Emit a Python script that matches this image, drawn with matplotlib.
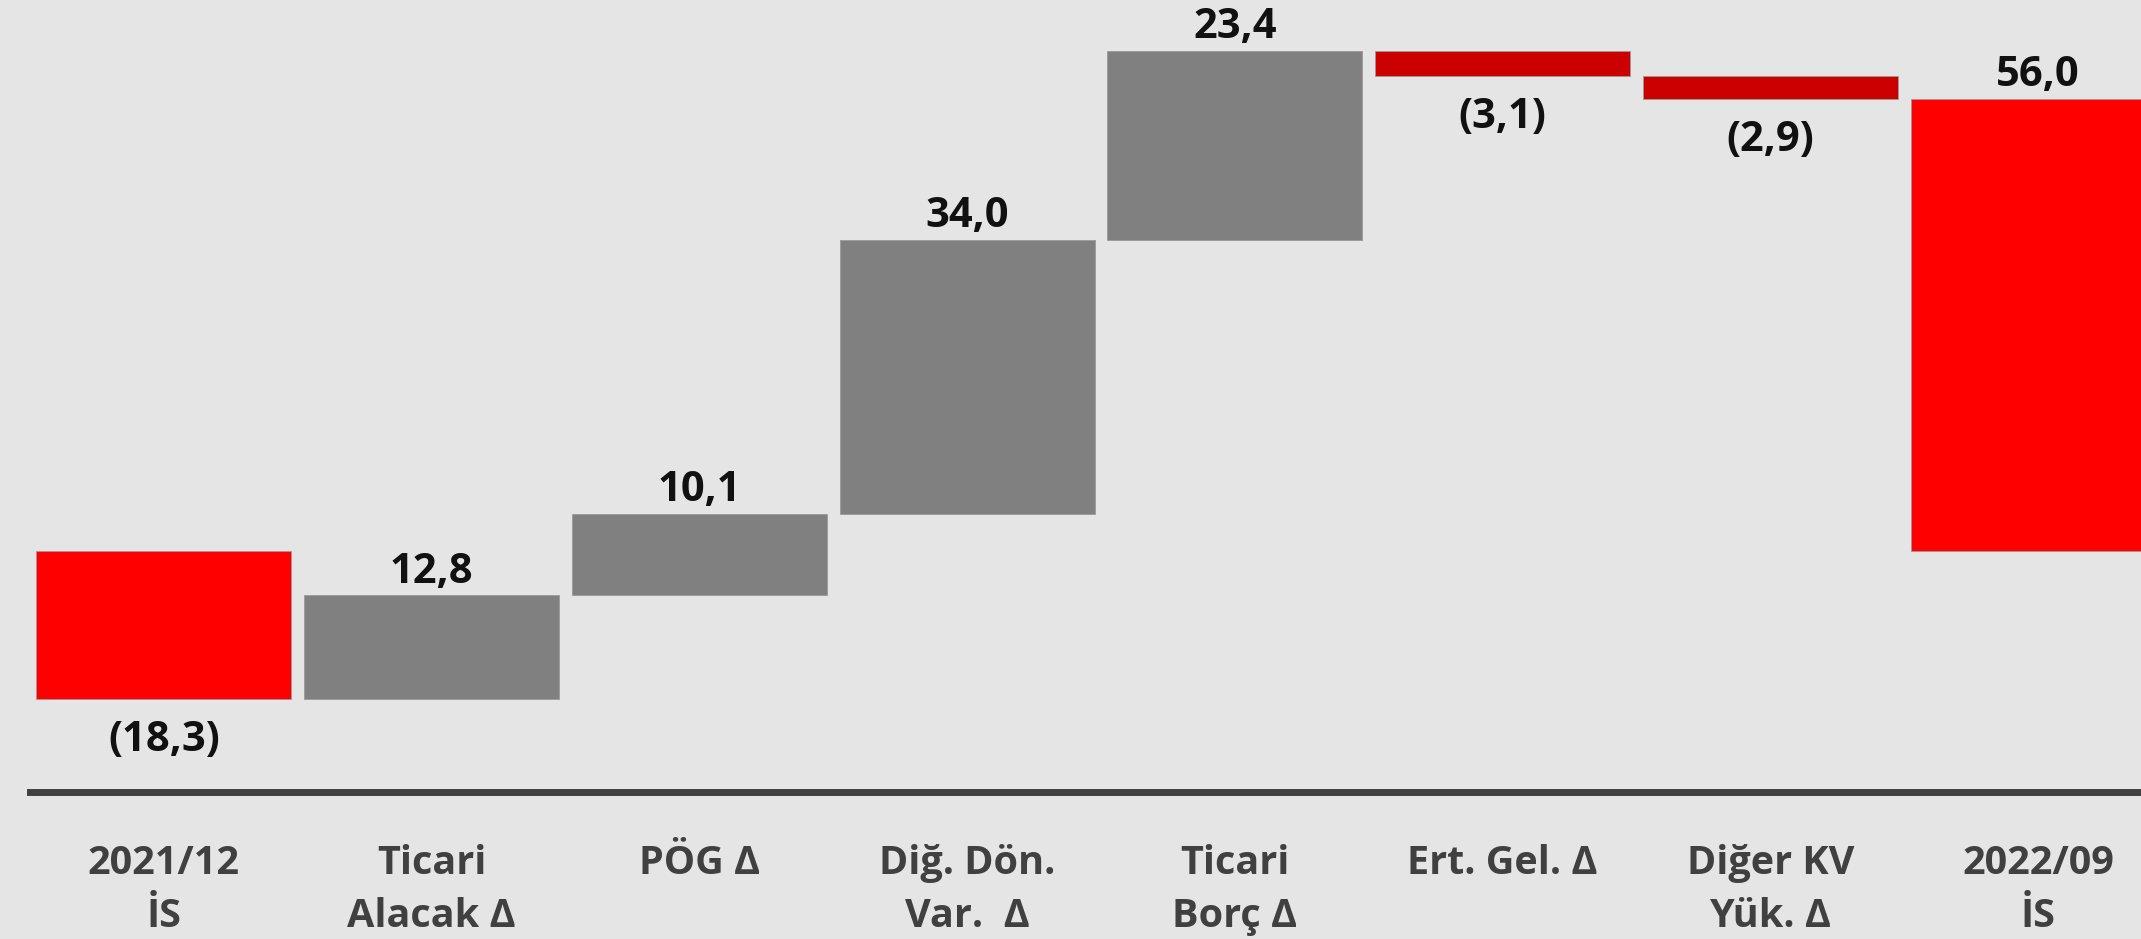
"""Waterfall: 2021/12 İS -> 2022/09 İS bridge (working capital components)."""

import matplotlib

matplotlib.use("Agg")
import matplotlib.pyplot as plt
import numpy as np

# Data.
CATEGORIES = [
    "2021/12\nİS",
    "Ticari\nAlacak Δ",
    "PÖG Δ",
    "Diğ. Dön.\nVar.  Δ",
    "Ticari\nBorç Δ",
    "Ert. Gel. Δ",
    "Diğer KV\nYük. Δ",
    "2022/09\nİS",
]
START = -18.3
DELTAS = [12.8, 10.1, 34.0, 23.4, -3.1, -2.9]
END = 56.0

RED = "#FF0000"
DARK_RED = "#CC0000"
GREY = "#808080"
BG = "#E5E5E5"
INK = "#404040"
FONT = ["Open Sans", "DejaVu Sans"]


def fmt(v):
    s = f"{abs(v):.1f}".replace(".", ",")
    return f"({s})" if v < 0 else s


def main():
    plt.rcParams["font.family"] = FONT
    plt.rcParams["font.weight"] = "bold"

    # bar geometry: (bottom, height, color, value)
    bottoms, heights, colors, values = [0.0], [START], [RED], [START]
    level = START
    for d in DELTAS:
        bottoms.append(level)
        heights.append(d)
        colors.append(GREY if d > 0 else DARK_RED)
        values.append(d)
        level += d
    bottoms.append(0.0)
    heights.append(END)
    colors.append(RED)
    values.append(END)

    fig = plt.figure(figsize=(21.41, 9.39), dpi=100, facecolor=BG)
    ax = fig.add_axes([0.014, 0.157, 0.986, 0.843], facecolor=BG)

    x = np.arange(len(CATEGORIES))
    ax.bar(x, heights, bottom=bottoms, width=0.953, color=colors,
           edgecolor="#9a9a9a", linewidth=0.6)

    for xi, b, h, v in zip(x, bottoms, heights, values):
        if v >= 0:
            ax.annotate(fmt(v), xy=(xi, b + h), xytext=(0, 2), textcoords="offset points",
                        ha="center", va="bottom", fontsize=30, fontweight="bold", color="#111111")
        else:
            ax.annotate(fmt(v), xy=(xi, b + h), xytext=(0, -15), textcoords="offset points",
                        ha="center", va="top", fontsize=30, fontweight="bold", color="#111111")

    ax.set_xlim(-0.5, 7.384)
    ax.set_ylim(-29.8, 68.3)
    ax.set_yticks([])
    ax.set_xticks(x)
    ax.set_xticklabels(CATEGORIES, fontsize=28.5, fontweight="bold", color=INK, linespacing=1.45)
    ax.tick_params(axis="x", length=0, pad=38)
    for side in ("top", "right", "left"):
        ax.spines[side].set_visible(False)
    ax.spines["bottom"].set_color(INK)
    ax.spines["bottom"].set_linewidth(5)

    fig.savefig("out.png", dpi=100, facecolor=BG)


if __name__ == "__main__":
    main()
